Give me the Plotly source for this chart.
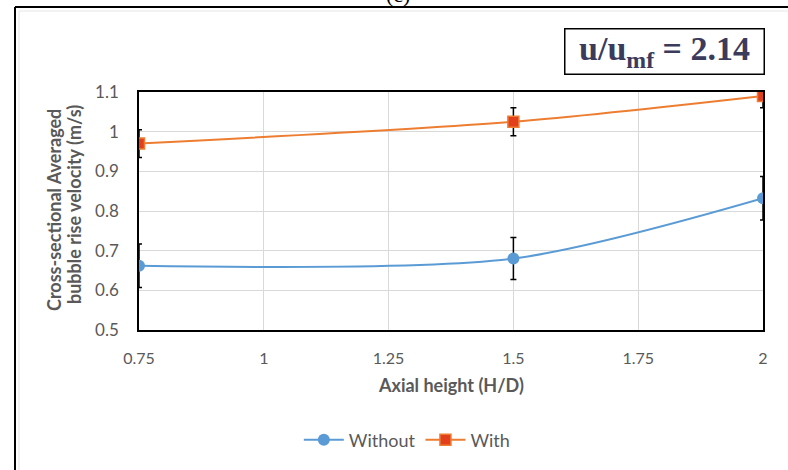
import plotly.graph_objects as go

heights = [0.75, 1.5, 2.0]
without_vals = [0.662, 0.680, 0.832]
without_err = [0.055, 0.053, 0.055]
with_vals = [0.970, 1.025, 1.090]
with_err = [0.035, 0.035, 0.030]
x_ticks = [0.75, 1, 1.25, 1.5, 1.75, 2]
x_tick_labels = ["0.75", "1", "1.25", "1.5", "1.75", "2"]
y_ticks = [0.5, 0.6, 0.7, 0.8, 0.9, 1.0, 1.1]
y_tick_labels = ["0.5", "0.6", "0.7", "0.8", "0.9", "1", "1.1"]

BLUE = "#5B9BD5"
ORANGE = "#ED7D31"
GRAY = "#595959"
FONT = "Lato"

fig = go.Figure()
fig.add_trace(go.Scatter(
    x=heights, y=without_vals, name="Without", mode="lines+markers",
    line=dict(color=BLUE, width=2, shape="spline", smoothing=0.8),
    marker=dict(symbol="circle", size=12, color=BLUE),
    error_y=dict(type="data", array=without_err, color="black", thickness=1.5, width=3),
))
fig.add_trace(go.Scatter(
    x=heights, y=with_vals, name="With", mode="lines+markers",
    line=dict(color=ORANGE, width=2, shape="spline", smoothing=0.8),
    marker=dict(symbol="square", size=11, color="#E2401C", line=dict(color=ORANGE, width=1.5)),
    error_y=dict(type="data", array=with_err, color="black", thickness=1.5, width=3),
))

fig.update_layout(
    width=788, height=470,
    margin=dict(l=139, r=25, t=92, b=140),
    paper_bgcolor="white", plot_bgcolor="white",
    font=dict(family=FONT, color=GRAY, size=16),
    showlegend=True,
    legend=dict(orientation="h", x=0.43, xanchor="center", y=-0.462, yanchor="middle",
                font=dict(family=FONT, size=18, color=GRAY), itemwidth=40),
    xaxis=dict(range=[0.75, 2], tickvals=x_ticks, ticktext=x_tick_labels,
               showgrid=True, gridcolor="#D9D9D9", gridwidth=1,
               showline=True, linecolor="black", linewidth=1.5, mirror=True,
               ticks="", ticklabelstandoff=13, zeroline=False,
               tickfont=dict(family=FONT, size=16, color=GRAY)),
    yaxis=dict(range=[0.5, 1.1], tickvals=y_ticks, ticktext=y_tick_labels,
               showgrid=True, gridcolor="#D9D9D9", gridwidth=1,
               showline=True, linecolor="black", linewidth=1.5, mirror=True,
               ticks="", ticklabelstandoff=15, zeroline=False,
               tickfont=dict(family=FONT, size=17, color=GRAY)),
)

# Axis titles (y title as two rotated lines)
fig.add_annotation(xref="paper", yref="paper", x=(54 - 139) / 624, y=(330 - 210) / 238,
                   textangle=-90, text="<b>Cross-sectional Averaged</b>",
                   showarrow=False, font=dict(family=FONT, size=18, color=GRAY),
                   xanchor="center", yanchor="middle", borderpad=0)
fig.add_annotation(xref="paper", yref="paper", x=(74 - 139) / 624, y=(330 - 205) / 238,
                   textangle=-90, text="<b>bubble rise velocity (m/s)</b>",
                   showarrow=False, font=dict(family=FONT, size=18, color=GRAY),
                   xanchor="center", yanchor="middle", borderpad=0)
fig.add_annotation(xref="paper", yref="paper", x=0.5, y=(330 - 385) / 238,
                   text="<b>Axial height (H/D)</b>", showarrow=False,
                   font=dict(family=FONT, size=18, color=GRAY),
                   xanchor="center", yanchor="middle")

# Condition label box
fig.add_annotation(xref="paper", yref="paper", x=(664 - 139) / 624, y=(330 - 52) / 238,
                   text="<b>u/u<sub>mf</sub> = 2.14</b>", showarrow=False,
                   font=dict(family="Liberation Serif", size=34, color="#3B3B5C"),
                   width=196, height=42, align="center", valign="middle",
                   bordercolor="black", borderwidth=1.5, borderpad=1, bgcolor="white",
                   xanchor="center", yanchor="middle")

# Partially visible panel label at top
fig.add_annotation(xref="paper", yref="paper", x=(398 - 139) / 624, y=(330 - 8) / 238,
                   text="(c)", showarrow=False, yanchor="bottom", xanchor="center",
                   borderpad=0,
                   font=dict(family="Liberation Serif", size=22, color="black"))

# Outer frame
fx0 = (15 - 139) / 624
fy0 = (330 - 7) / 238
fx1 = (788 - 139) / 624 + 0.05
fyb = (330 - 480) / 238
fig.add_shape(type="line", xref="paper", yref="paper", x0=fx0, y0=fy0, x1=fx1, y1=fy0,
              line=dict(color="black", width=2))
fig.add_shape(type="line", xref="paper", yref="paper", x0=fx0, y0=fy0, x1=fx0, y1=fyb,
              line=dict(color="black", width=2))
gx0 = (19 - 139) / 624
gy0 = (330 - 11) / 238
fig.add_shape(type="line", xref="paper", yref="paper", x0=gx0, y0=gy0, x1=fx1, y1=gy0,
              line=dict(color="#E6E6E6", width=1))
fig.add_shape(type="line", xref="paper", yref="paper", x0=gx0, y0=gy0, x1=gx0, y1=fyb,
              line=dict(color="#E6E6E6", width=1))

fig.write_html("out.html")
